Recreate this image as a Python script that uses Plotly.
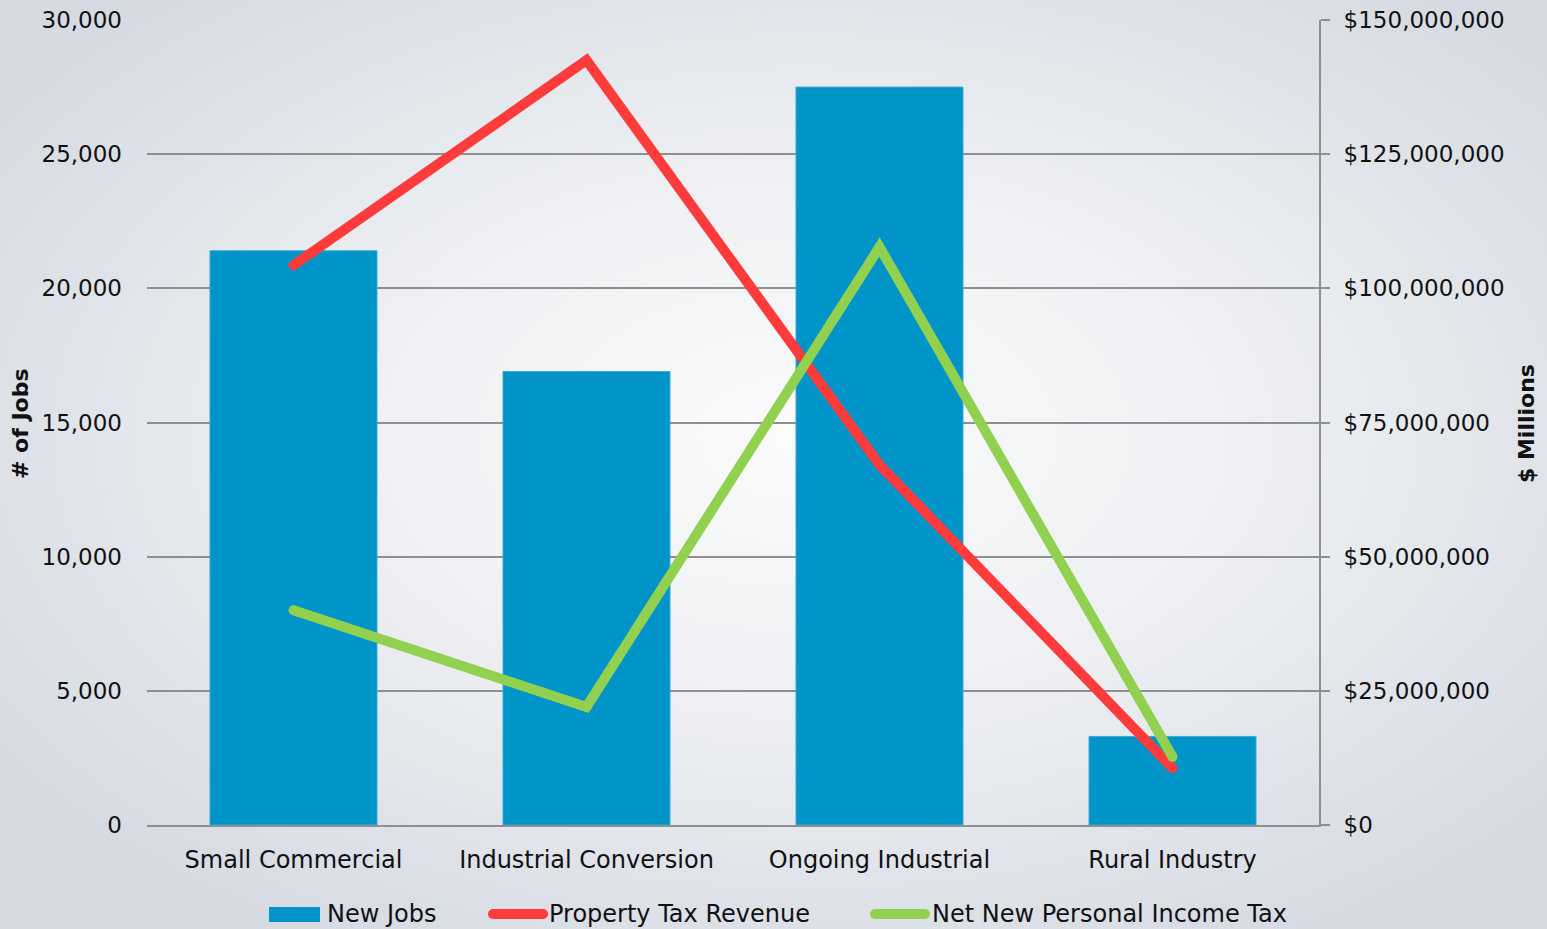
import base64
import plotly.graph_objects as go

# ---- data ----
categories = ["Small Commercial", "Industrial Conversion", "Ongoing Industrial", "Rural Industry"]
new_jobs = [21400, 16900, 27500, 3300]
property_tax = [104_300_000, 142_500_000, 67_100_000, 10_600_000]
income_tax = [40_000_000, 22_000_000, 107_700_000, 12_700_000]

series_names = ["New Jobs", "Property Tax Revenue", "Net New Personal Income Tax"]
colors = ["#0194C8", "#FF3B3B", "#92D050"]

W, H = 1547, 929
ML, MR, MT, MB = 147, 228, 20, 104
PW, PH = W - ML - MR, H - MT - MB

FONT = "DejaVu Sans"
GRID = "#8f8f8f"


def px_x(p):
    return (p - ML) / PW


def px_y(p):
    return (H - MB - p) / PH


fig = go.Figure()

fig.add_trace(go.Bar(
    x=categories, y=new_jobs, name=series_names[0],
    marker=dict(color=colors[0], line=dict(color="#3aaad6", width=1)),
    yaxis="y",
))
for vals, name, col in [(property_tax, series_names[1], colors[1]),
                        (income_tax, series_names[2], colors[2])]:
    fig.add_trace(go.Scatter(
        x=categories, y=vals, name=name, yaxis="y2",
        mode="lines+markers",
        line=dict(color=col, width=10),
        marker=dict(color=col, size=10),
    ))

# soft radial background
svg = (
    '<svg xmlns="http://www.w3.org/2000/svg" width="1547" height="929" '
    'preserveAspectRatio="none" viewBox="0 0 1547 929">'
    '<defs><radialGradient id="g" cx="0.52" cy="0.47" r="0.62">'
    '<stop offset="0" stop-color="#fbfbfc"/>'
    '<stop offset="0.45" stop-color="#eef0f3"/>'
    '<stop offset="1" stop-color="#d6dbe3"/>'
    '</radialGradient></defs>'
    '<rect width="1547" height="929" fill="url(#g)"/></svg>'
)
bg_src = "data:image/svg+xml;base64," + base64.b64encode(svg.encode()).decode()

fig.add_layout_image(dict(
    source=bg_src, xref="paper", yref="paper",
    x=-ML / PW, y=1 + MT / PH, sizex=W / PW, sizey=H / PH,
    xanchor="left", yanchor="top", sizing="stretch", layer="below",
))

# axis titles
annotations = [
    dict(text="<b># of Jobs</b>", xref="paper", yref="paper",
         x=px_x(21), y=px_y(424), xanchor="center", yanchor="middle",
         textangle=-90, showarrow=False,
         font=dict(family=FONT, size=22, color="#111")),
    dict(text="<b>$ Millions</b>", xref="paper", yref="paper",
         x=px_x(1527), y=px_y(424), xanchor="center", yanchor="middle",
         textangle=-90, showarrow=False,
         font=dict(family=FONT, size=22, color="#111")),
]

# legend built from shapes and labels
shapes = []
leg_y = px_y(914)
legend_items = [
    # (swatch start px, swatch end px, label start px, kind)
    (269, 320, 325, "bar"),
    (493, 543, 547, "line"),
    (875, 925, 930, "line"),
]
for (s0, s1, t0, kind), name, col in zip(legend_items, series_names, colors):
    if kind == "bar":
        shapes.append(dict(type="rect", xref="paper", yref="paper",
                           x0=px_x(s0), x1=px_x(s1), y0=px_y(922), y1=px_y(907),
                           fillcolor=col, line=dict(width=0)))
    else:
        shapes.append(dict(type="line", xref="paper", yref="paper",
                           x0=px_x(s0), x1=px_x(s1), y0=leg_y, y1=leg_y,
                           line=dict(color=col, width=10)))
        for sx in (s0, s1):
            shapes.append(dict(type="circle", xref="paper", yref="paper",
                               xsizemode="pixel", ysizemode="pixel",
                               xanchor=px_x(sx), yanchor=leg_y,
                               x0=-5, x1=5, y0=-5, y1=5,
                               fillcolor=col, line=dict(width=0)))
    annotations.append(dict(text=name, xref="paper", yref="paper",
                            x=px_x(t0), y=leg_y, xanchor="left", yanchor="middle",
                            showarrow=False,
                            font=dict(family=FONT, size=24, color="#111")))

fig.update_layout(
    width=W, height=H,
    margin=dict(l=ML, r=MR, t=MT, b=MB, autoexpand=False),
    paper_bgcolor="#dde1e7",
    plot_bgcolor="rgba(0,0,0,0)",
    font=dict(family=FONT, size=23, color="#111"),
    showlegend=False,
    bargap=0.43,
    xaxis=dict(
        type="category",
        showgrid=False, showline=True, linecolor=GRID, linewidth=2,
        ticks="", tickfont=dict(size=24),
        ticklabelstandoff=12,
    ),
    yaxis=dict(
        range=[0, 30000], dtick=5000, tickformat=",",
        showgrid=True, gridcolor=GRID, gridwidth=2,
        showline=False, zeroline=False, ticks="",
        ticklabelstandoff=24, tickfont=dict(size=23),
    ),
    yaxis2=dict(
        range=[0, 150_000_000], dtick=25_000_000, tickformat=",", tickprefix="$",
        overlaying="y", side="right",
        showgrid=False, zeroline=False,
        showline=True, linecolor=GRID, linewidth=2,
        ticks="outside", ticklen=9, tickcolor=GRID, tickwidth=2,
        ticklabelstandoff=9, tickfont=dict(size=23),
    ),
    shapes=shapes,
    annotations=annotations,
)

fig.write_html("out.html")
